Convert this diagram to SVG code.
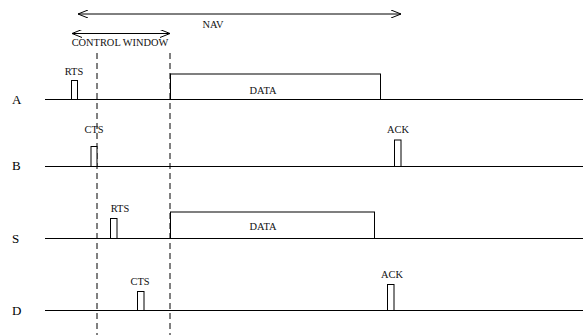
<svg xmlns="http://www.w3.org/2000/svg" width="583" height="335" viewBox="0 0 583 335">
<style>
.t{font-family:"Liberation Serif","Times New Roman",serif;font-size:10.4px;fill:#111;text-anchor:middle}
.lbl{font-family:"Liberation Serif","Times New Roman",serif;font-size:13px;fill:#000}
.ln{stroke:#000;stroke-width:1;fill:none}
.box{stroke:#000;stroke-width:1;fill:#fff}
.dash{stroke:#000;stroke-width:1;stroke-dasharray:6,4;fill:none}
</style>
<defs>
<marker id="ah" viewBox="0 0 10 8" refX="10" refY="4" markerWidth="10" markerHeight="8" markerUnits="userSpaceOnUse" orient="auto-start-reverse">
<polyline points="0,0 10,4 0,8" fill="none" stroke="#000" stroke-width="1"/>
</marker>
</defs>
<g id="connectors">
<line class="ln" x1="78" y1="14" x2="401" y2="14" marker-start="url(#ah)" marker-end="url(#ah)"/>
<line class="ln" x1="72" y1="33.5" x2="170" y2="33.5" marker-start="url(#ah)" marker-end="url(#ah)"/>
<line class="dash" x1="97" y1="53" x2="97" y2="335"/>
<line class="dash" x1="170" y1="53" x2="170" y2="335"/>
</g>
<text class="t" x="213" y="28">NAV</text>
<text class="t" x="120" y="46">CONTROL WINDOW</text>
<g id="A">
<text class="lbl" x="12" y="104">A</text>
<line class="ln" x1="45" y1="99.5" x2="583" y2="99.5"/>
<rect class="box" x="71.5" y="80.5" width="6" height="19"/>
<text class="t" x="74" y="75">RTS</text>
<rect class="box" x="170.5" y="74" width="210" height="25.5"/>
<text class="t" x="263" y="94">DATA</text>
</g>
<g id="B">
<text class="lbl" x="12" y="170">B</text>
<line class="ln" x1="45" y1="166.5" x2="583" y2="166.5"/>
<rect class="box" x="91" y="146.5" width="6" height="20"/>
<text class="t" x="94" y="133">CTS</text>
<rect class="box" x="394.5" y="140" width="6.5" height="26.5"/>
<text class="t" x="398" y="133">ACK</text>
</g>
<g id="S">
<text class="lbl" x="12" y="243">S</text>
<line class="ln" x1="45" y1="238.5" x2="583" y2="238.5"/>
<rect class="box" x="110.5" y="218.5" width="6.5" height="20"/>
<text class="t" x="120" y="212">RTS</text>
<rect class="box" x="170.5" y="212" width="204" height="26.5"/>
<text class="t" x="263" y="230">DATA</text>
</g>
<g id="D">
<text class="lbl" x="12" y="315">D</text>
<line class="ln" x1="45" y1="310.5" x2="583" y2="310.5"/>
<rect class="box" x="137.5" y="291.5" width="6.5" height="19"/>
<text class="t" x="140" y="285">CTS</text>
<rect class="box" x="387.5" y="284.5" width="6.5" height="26"/>
<text class="t" x="392" y="278">ACK</text>
</g>
</svg>
